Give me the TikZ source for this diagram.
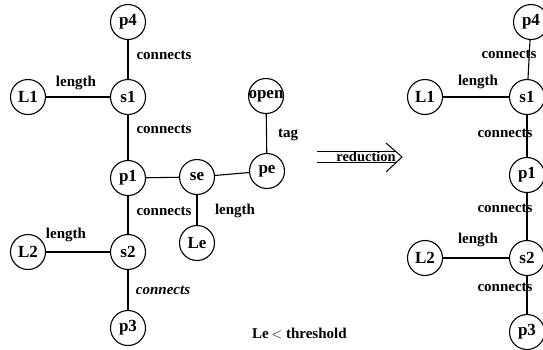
\documentclass[tikz,border=0pt]{standalone}
\usepackage{fontspec}
\setmainfont{Liberation Serif}
\begin{document}
\begin{tikzpicture}[x=1pt,y=-1pt,
  vtx/.style={circle,draw,line width=1.1pt,minimum size=35pt,inner sep=0pt,font=\fontsize{17}{19}\selectfont\bfseries},
  edge/.style={line width=1.1pt},
  lbl/.style={font=\fontsize{15}{17}\selectfont\bfseries,inner sep=1pt}]
\useasboundingbox (0,0) rectangle (543,349);
\begin{scope}
\clip (0,0) rectangle (543,349);
% left graph
\node[vtx] (p4) at (128,22) {p4};
\node[vtx] (s1) at (128,97) {s1};
\node[vtx] (L1) at (28,97) {L1};
\node[vtx] (p1) at (128,178) {p1};
\node[vtx] (se) at (197,177) {se};
\node[vtx] (pe) at (267,171) {pe};
\node[vtx] (open) at (266,96) {\makebox[0pt]{open}};
\node[vtx] (Le) at (197,243) {Le};
\node[vtx] (s2) at (128,252) {s2};
\node[vtx] (L2) at (28,252) {L2};
\node[vtx] (p3) at (128,328) {p3};
\draw[edge] (p4) -- (s1);
\draw[edge] (L1) -- (s1);
\draw[edge] (s1) -- (p1);
\draw[edge] (p1) -- (se);
\draw[edge] (se) -- (pe);
\draw[edge] (pe) -- (open);
\draw[edge] (se) -- (Le);
\draw[edge] (p1) -- (s2);
\draw[edge] (L2) -- (s2);
\draw[edge] (s2) -- (p3);
\node[lbl] (c1) at (164,55) {connects};
\node[lbl] (l1) at (76,83) {length};
\node[lbl] (c2) at (164,129) {connects};
\node[lbl] (tg) at (288,135) {tag};
\node[lbl] (c3) at (164,211) {connects};
\node[lbl] (l3) at (235,211) {length};
\node[lbl] (l2) at (66,235) {length};
\node[lbl,font=\fontsize{15}{17}\selectfont\bfseries\itshape] (c4) at (163,290) {connects};
% reduction arrow
\coordinate (ra) at (317,151);
\coordinate (rb) at (317,162);
\coordinate (rt) at (402,157);
\draw[line width=1pt] (ra) -- (396,151);
\draw[line width=1pt] (rb) -- (396,162);
\draw[line width=1pt] (386,143) -- (rt) -- (386,172);
\node[lbl,font=\fontsize{14.5}{16}\selectfont\bfseries] (red) at (366,157) {reduction};
\node[lbl,anchor=west] (thr) at (251,333) {Le\,$<$ threshold};
% right graph
\node[vtx] (rp4) at (531,22) {p4};
\node[vtx] (rs1) at (527,97) {s1};
\node[vtx] (rL1) at (425,97) {L1};
\node[vtx] (rp1) at (527,175) {p1};
\node[vtx] (rs2) at (527,258) {s2};
\node[vtx] (rL2) at (425,258) {L2};
\node[vtx] (rp3) at (527,332) {p3};
\draw[edge] (rp4) -- (rs1);
\draw[edge] (rL1) -- (rs1);
\draw[edge] (rs1) -- (rp1);
\draw[edge] (rp1) -- (rs2);
\draw[edge] (rL2) -- (rs2);
\draw[edge] (rs2) -- (rp3);
\node[lbl] (rc1) at (509,54) {connects};
\node[lbl] (rl1) at (478,82) {length};
\node[lbl] (rc2) at (505,133) {connects};
\node[lbl] (rc3) at (505,208) {connects};
\node[lbl] (rl2) at (478,240) {length};
\node[lbl] (rc4) at (505,287) {connects};
\end{scope}
\end{tikzpicture}
\end{document}
